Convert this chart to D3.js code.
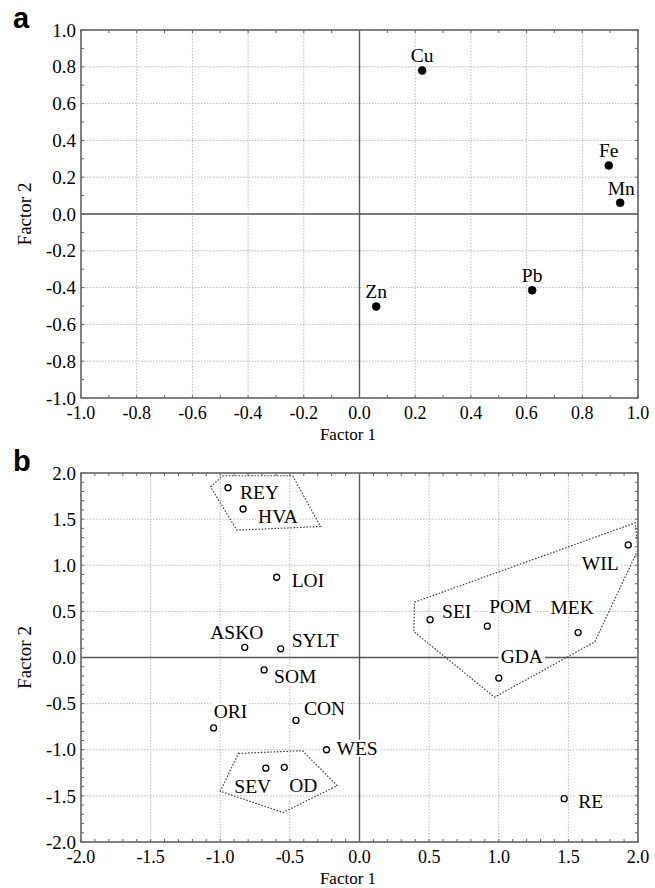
<!DOCTYPE html>
<html>
<head>
<meta charset="utf-8">
<script src="https://cdn.jsdelivr.net/npm/d3@7"></script>
<style>
  body { margin: 0; background: #fff; }
  svg { display: block; }
</style>
</head>
<body>
<div id="chart"></div>
<script>
// panel a: element loadings
var elementNames = ["Cu", "Fe", "Mn", "Pb", "Zn"];
var elementF1 = [0.225, 0.895, 0.936, 0.62, 0.06];
var elementF2 = [0.78, 0.263, 0.061, -0.415, -0.503];
var ticksA = [-1.0, -0.8, -0.6, -0.4, -0.2, 0.0, 0.2, 0.4, 0.6, 0.8, 1.0];

// panel b: site scores
var siteNames = ["REY", "HVA", "LOI", "ASKO", "SYLT", "SOM", "ORI", "CON", "WES",
                 "SEV", "OD", "RE", "SEI", "POM", "MEK", "GDA", "WIL"];
var siteF1 = [-0.944, -0.836, -0.595, -0.824, -0.566, -0.685, -1.048, -0.456, -0.237,
              -0.673, -0.54, 1.47, 0.507, 0.918, 1.57, 1.0, 1.93];
var siteF2 = [1.84, 1.61, 0.87, 0.11, 0.094, -0.135, -0.763, -0.682, -1.0,
              -1.20, -1.19, -1.53, 0.41, 0.34, 0.27, -0.223, 1.22];
var ticksB = [-2.0, -1.5, -1.0, -0.5, 0.0, 0.5, 1.0, 1.5, 2.0];

// dotted group outlines (factor space)
var hullNorth = [[-1.07, 1.85], [-0.98, 1.97], [-0.48, 1.97], [-0.28, 1.42], [-0.88, 1.38]];
var hullEast = [[0.395, 0.60], [1.98, 1.46], [2.0, 1.17], [1.69, 0.17], [0.97, -0.43], [0.39, 0.28]];
var hullSouth = [[-0.87, -1.04], [-0.41, -1.01], [-0.16, -1.39], [-0.55, -1.68], [-1.0, -1.45]];

// label placement: anchor, dx, dy (px from the point)
var elementLabelPos = [["middle", 0, -15], ["middle", 0, -15], ["middle", 1, -15],
                       ["middle", 0, -15], ["middle", 0, -15]];
var siteLabelPos = [["start", 12, 4], ["start", 15, 7], ["start", 15, 3], ["middle", -8, -15],
                    ["start", 11, -9], ["start", 10, 6], ["middle", 17, -17], ["start", 8, -12],
                    ["start", 10, -2], ["middle", -13, 18], ["middle", 19, 18], ["start", 14, 3],
                    ["start", 12, -9], ["middle", 23, -20], ["middle", -6, -25], ["middle", 23, -22],
                    ["middle", -28, 18]];

var W = 655, H = 888;
var serif = "'Liberation Serif', 'Times New Roman', serif";

var svg = d3.select("#chart").append("svg")
    .attr("width", W)
    .attr("height", H);

function drawPanel(opt) {
    var x = d3.scaleLinear().domain(opt.domain).range([opt.left, opt.right]);
    var y = d3.scaleLinear().domain(opt.domain).range([opt.bottom, opt.top]);
    var g = svg.append("g");

    // grid
    g.selectAll(".gx").data(opt.ticks).enter().append("line")
        .attr("x1", function(d) { return x(d); })
        .attr("x2", function(d) { return x(d); })
        .attr("y1", opt.top).attr("y2", opt.bottom)
        .attr("stroke", "#bbb").attr("stroke-width", 1).attr("stroke-dasharray", "1.5,1.5");
    g.selectAll(".gy").data(opt.ticks).enter().append("line")
        .attr("y1", function(d) { return y(d); })
        .attr("y2", function(d) { return y(d); })
        .attr("x1", opt.left).attr("x2", opt.right)
        .attr("stroke", "#bbb").attr("stroke-width", 1).attr("stroke-dasharray", "1.5,1.5");

    // zero lines
    g.append("line").attr("x1", x(0)).attr("x2", x(0)).attr("y1", opt.top).attr("y2", opt.bottom)
        .attr("stroke", "#555").attr("stroke-width", 1.4);
    g.append("line").attr("y1", y(0)).attr("y2", y(0)).attr("x1", opt.left).attr("x2", opt.right)
        .attr("stroke", "#555").attr("stroke-width", 1.4);

    // minor ticks every 0.1
    var minor = d3.range(Math.round(opt.domain[0] * 10), Math.round(opt.domain[1] * 10) + 1)
        .map(function(v) { return v / 10; });
    minor.forEach(function(v) {
        g.append("line").attr("x1", x(v)).attr("x2", x(v)).attr("y1", opt.bottom).attr("y2", opt.bottom - 3)
            .attr("stroke", "#666");
        g.append("line").attr("x1", x(v)).attr("x2", x(v)).attr("y1", opt.top).attr("y2", opt.top + 3)
            .attr("stroke", "#666");
        g.append("line").attr("y1", y(v)).attr("y2", y(v)).attr("x1", opt.left).attr("x2", opt.left + 3)
            .attr("stroke", "#666");
        g.append("line").attr("y1", y(v)).attr("y2", y(v)).attr("x1", opt.right).attr("x2", opt.right - 3)
            .attr("stroke", "#666");
    });

    // hulls
    (opt.hulls || []).forEach(function(h) {
        g.append("path")
            .attr("d", d3.line().x(function(p) { return x(p[0]); }).y(function(p) { return y(p[1]); })
                .curve(d3.curveLinearClosed)(h))
            .attr("fill", "none").attr("stroke", "#444").attr("stroke-width", 1.2)
            .attr("stroke-dasharray", "1.6,1.6");
    });

    // labels with white boxes
    opt.names.forEach(function(name, i) {
        var pos = opt.labelPos[i];
        var t = g.append("text")
            .attr("x", x(opt.xs[i]) + pos[1])
            .attr("y", y(opt.ys[i]) + pos[2])
            .attr("dy", "0.35em")
            .attr("text-anchor", pos[0])
            .attr("font-family", serif)
            .attr("font-size", opt.labelSize)
            .attr("fill", "#000")
            .text(name);
        var bb = t.node().getBBox();
        g.insert("rect", function() { return t.node(); })
            .attr("x", bb.x - 2).attr("y", bb.y + 2)
            .attr("width", bb.width + 4).attr("height", bb.height - 4)
            .attr("fill", "#fff");
    });

    // points
    g.selectAll(".pt").data(opt.names).enter().append("circle")
        .attr("cx", function(d, i) { return x(opt.xs[i]); })
        .attr("cy", function(d, i) { return y(opt.ys[i]); })
        .attr("r", opt.filled ? 4 : 3)
        .attr("fill", opt.filled ? "#000" : "#fff")
        .attr("stroke", "#000")
        .attr("stroke-width", opt.filled ? 0.5 : 1.3);

    // frame
    g.append("rect")
        .attr("x", opt.left).attr("y", opt.top)
        .attr("width", opt.right - opt.left).attr("height", opt.bottom - opt.top)
        .attr("fill", "none").attr("stroke", "#666").attr("stroke-width", 1.6);

    // tick labels
    g.selectAll(".ty").data(opt.ticks).enter().append("text")
        .attr("x", opt.left - 5)
        .attr("y", function(d) { return y(d); })
        .attr("dy", "0.35em")
        .attr("text-anchor", "end")
        .attr("font-family", serif).attr("font-size", 19).attr("fill", "#000")
        .text(function(d) { return d.toFixed(1); });
    g.selectAll(".tx").data(opt.ticks).enter().append("text")
        .attr("x", function(d) { return x(d); })
        .attr("y", opt.bottom + 21)
        .attr("text-anchor", "middle")
        .attr("font-family", serif).attr("font-size", 18).attr("fill", "#000")
        .text(function(d) { return d.toFixed(1); });

    // axis titles
    g.append("text")
        .attr("x", 348)
        .attr("y", opt.bottom + 42)
        .attr("text-anchor", "middle")
        .attr("font-family", serif).attr("font-size", 17).attr("fill", "#000")
        .text("Factor 1");
    g.append("text")
        .attr("transform", "translate(31," + ((opt.top + opt.bottom) / 2) + ") rotate(-90)")
        .attr("text-anchor", "middle")
        .attr("font-family", serif).attr("font-size", 19).attr("fill", "#000")
        .text("Factor 2");

    // panel letter
    g.append("text")
        .attr("x", 13).attr("y", opt.top - 2)
        .attr("font-family", "'Liberation Sans', Arial, sans-serif")
        .attr("font-weight", "bold").attr("font-size", 29).attr("fill", "#000")
        .text(opt.letter);
}

drawPanel({
    letter: "a",
    left: 81, right: 638, top: 30, bottom: 398,
    domain: [-1, 1], ticks: ticksA,
    names: elementNames, xs: elementF1, ys: elementF2,
    labelPos: elementLabelPos, labelSize: 19.5, filled: true
});

drawPanel({
    letter: "b",
    left: 81, right: 638, top: 473, bottom: 842,
    domain: [-2, 2], ticks: ticksB,
    names: siteNames, xs: siteF1, ys: siteF2,
    labelPos: siteLabelPos, labelSize: 19.5, filled: false,
    hulls: [hullNorth, hullEast, hullSouth]
});
</script>
</body>
</html>
